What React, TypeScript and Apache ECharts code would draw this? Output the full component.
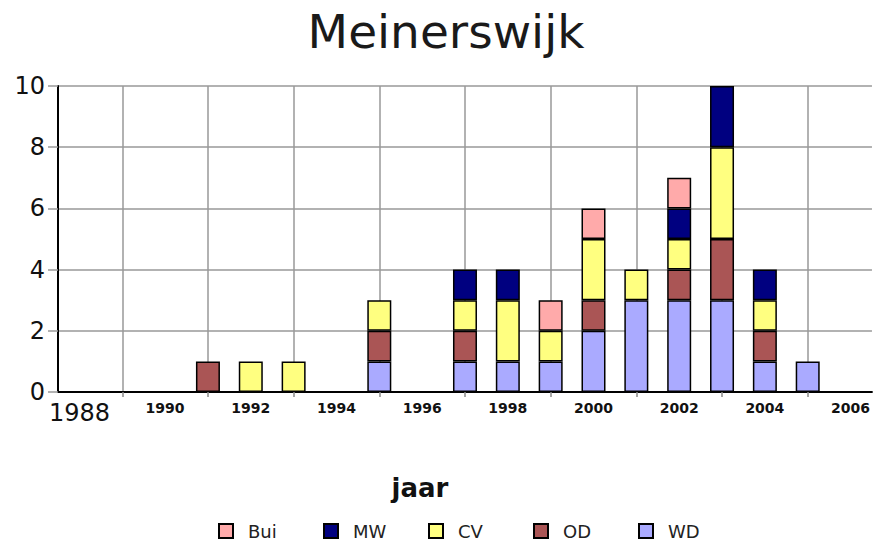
import React, { useEffect, useRef } from "react";
import * as echarts from "echarts";

const years = ["1988","1989","1990","1991","1992","1993","1994","1995","1996","1997","1998","1999","2000","2001","2002","2003","2004","2005","2006"];
const WD  = [0,0,0,0,0,0,0,1,0,1,1,1,2,3,3,3,1,1,0];
const OD  = [0,0,0,1,0,0,0,1,0,1,0,0,1,0,1,2,1,0,0];
const CV  = [0,0,0,0,1,1,0,1,0,1,2,1,2,1,1,3,1,0,0];
const MW  = [0,0,0,0,0,0,0,0,0,1,1,0,0,0,1,2,1,0,0];
const Bui = [0,0,0,0,0,0,0,0,0,0,0,1,1,0,1,0,0,0,0];
const legendOrder = ["Bui", "MW", "CV", "OD", "WD"];

const FONT = "DejaVu Sans";

export default function App() {
  const ref = useRef<HTMLDivElement>(null);
  useEffect(() => {
    if (!ref.current) return;
    const chart = echarts.init(ref.current, null, { renderer: "svg" });
    const mk = (name: string, data: number[], color: string) => ({
      name,
      type: "bar",
      stack: "total",
      barWidth: 24,
      data: data.map((v) => (v === 0 ? "-" : v)),
      itemStyle: { color, borderColor: "#000", borderWidth: 1.5 },
    });
    chart.setOption({
      animation: false,
      backgroundColor: "#fff",
      grid: { left: 58, right: 0, top: 86, bottom: 150, containLabel: false },
      graphic: [
        { type: "text", x: 446, y: 31, style: { text: "Meinerswijk", fontFamily: FONT, fontSize: 47, fill: "#1a1a1a", align: "center", verticalAlign: "middle" } },
        { type: "text", x: 420, y: 488, style: { text: "jaar", fontFamily: FONT, fontSize: 26, fontWeight: "bold", fill: "#111", align: "center", verticalAlign: "middle" } },
      ],
      legend: legendOrder.map((name, i) => ({
        data: [name],
        left: 218 + i * 105,
        top: 522,
        padding: 0,
        icon: "rect",
        itemWidth: 14,
        itemHeight: 14,
        formatter: (n: string) => "{g|}{t|" + n + "}",
        textStyle: {
          fontFamily: FONT,
          fontSize: 18,
          lineHeight: 16,
          color: "#222",
          rich: {
            g: { width: 10, lineHeight: 16 },
            t: { fontFamily: FONT, fontSize: 18, lineHeight: 16, color: "#222" },
          },
        },
      })),
      xAxis: {
        type: "category",
        data: years,
        boundaryGap: true,
        axisLine: { lineStyle: { color: "#000", width: 2 } },
        axisTick: { show: true, alignWithLabel: true, interval: (i: number) => i % 2 === 1, length: 5, lineStyle: { color: "#888", width: 1.5 } },
        splitLine: { show: true, alignWithLabel: true, interval: (i: number) => i % 2 === 1, lineStyle: { color: "#999", width: 1.5 } },
        axisLabel: {
          interval: (i: number) => i % 2 === 0,
          margin: 9,
          formatter: (v: string) => (v === "1988" ? "{big|" + v + "}" : "{small|" + v + "}"),
          rich: {
            big: { fontFamily: FONT, fontSize: 24, color: "#111" },
            small: { fontFamily: FONT, fontSize: 14, fontWeight: "bold", color: "#111" },
          },
        },
      },
      yAxis: {
        type: "value",
        min: 0,
        max: 10,
        interval: 2,
        axisLine: { show: true, lineStyle: { color: "#000", width: 2 } },
        axisTick: { show: true, length: 10, lineStyle: { color: "#999", width: 1.5 } },
        splitLine: { show: true, lineStyle: { color: "#999", width: 1.5 } },
        axisLabel: { margin: 13, fontFamily: FONT, fontSize: 24, color: "#111" },
      },
      series: [
        mk("WD", WD, "#aaaaff"),
        mk("OD", OD, "#aa5555"),
        mk("CV", CV, "#ffff80"),
        mk("MW", MW, "#000080"),
        mk("Bui", Bui, "#ffaaaa"),
      ],
    });
    return () => chart.dispose();
  }, []);
  return <div ref={ref} style={{ position: "fixed", left: 0, top: 0, width: 873, height: 542, background: "#fff" }} />;
}
